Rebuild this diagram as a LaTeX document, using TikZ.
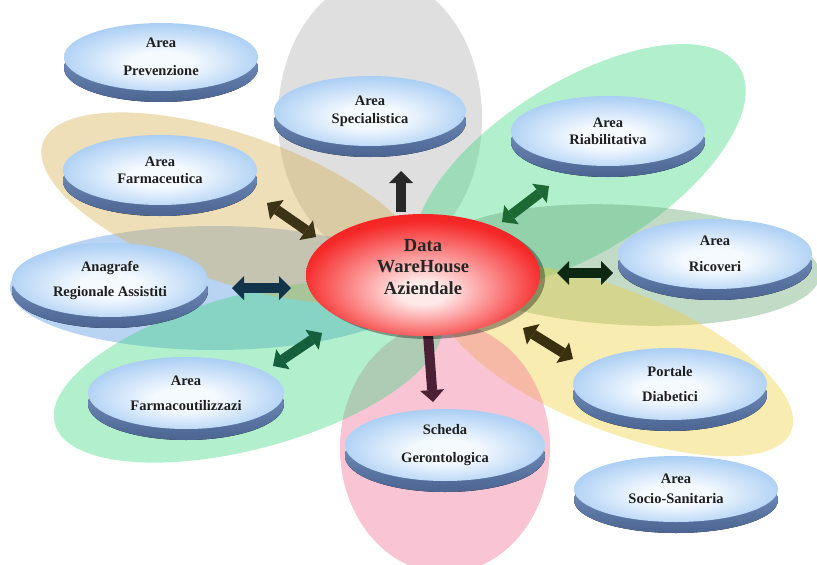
\documentclass[tikz,border=0pt]{standalone}
\usepackage{fontspec}
\setmainfont{Liberation Serif}
\usetikzlibrary{shapes.geometric,arrows.meta}
\definecolor{dfin}{RGB}{245,250,255}
\definecolor{dfmid}{RGB}{160,200,242}
\definecolor{dfout}{RGB}{105,158,226}
\definecolor{baseA}{RGB}{130,160,205}
\definecolor{baseB}{RGB}{75,100,145}
\definecolor{rdin}{RGB}{255,232,232}
\definecolor{rdmid}{RGB}{246,40,40}
\definecolor{rdout}{RGB}{232,6,6}
\definecolor{ptgray}{RGB}{150,150,150}
\definecolor{ptmint}{RGB}{60,215,130}
\definecolor{ptsage}{RGB}{100,165,115}
\definecolor{ptyel}{RGB}{242,208,60}
\definecolor{ptpink}{RGB}{242,110,150}
\definecolor{ptblue}{RGB}{80,145,225}
\definecolor{pttan}{RGB}{215,175,80}
\definecolor{arBrown}{RGB}{60,50,22}
\definecolor{arNavy}{RGB}{18,52,75}
\definecolor{arGreen}{RGB}{22,95,60}
\definecolor{arGray}{RGB}{40,40,40}
\definecolor{arLeaf}{RGB}{28,105,52}
\definecolor{arDark}{RGB}{12,40,18}
\definecolor{arOlive}{RGB}{58,48,16}
\definecolor{arPlum}{RGB}{75,32,52}
\pgfdeclareradialshading{diskface}{\pgfpoint{0bp}{-5bp}}{color(0bp)=(dfin); color(8bp)=(dfin); color(30bp)=(dfmid); color(50bp)=(dfout)}
\pgfdeclareradialshading{redball}{\pgfpoint{0bp}{-8bp}}{color(0bp)=(rdin); color(5bp)=(rdin); color(26bp)=(rdmid); color(50bp)=(rdout)}
\tikzset{
  disk/.style={ellipse, inner sep=0pt, shading=diskface, align=center,
    font=\bfseries\fontsize{14.5}{16}\selectfont, text=black!88},
  diskbase/.style={top color=baseA, bottom color=baseB},
  petal/.style={fill opacity=0.4},
  dblarrow/.style={line width=10pt, <->},
  sglarrow/.style={line width=10pt, ->},
}
\newcommand\mydisk[6]{%
  \fill[diskbase] (#2,#3+11) ellipse [x radius=#4/2, y radius=#5/2];
  \node[disk, minimum width=#4pt, minimum height=#5pt] (#1) at (#2,#3) {#6};
}
\begin{document}
\begin{tikzpicture}[x=1pt,y=-1pt,
  >={Triangle[width=24pt,length=12pt,line width=0pt]}]
\clip (0,0) rectangle (817,565);
\fill[white] (0,0) rectangle (817,565);
% petals
\fill[petal, ptgray, fill opacity=0.3] (380,118) ellipse [x radius=102, y radius=140];
\fill[petal, ptmint, rotate around={32:(580,167)}] (580,167) ellipse [x radius=188, y radius=85];
\fill[petal, ptsage, rotate around={-3:(625,265)}] (625,265) ellipse [x radius=195, y radius=60];
\fill[petal, ptyel, rotate around={-22:(615,360)}] (615,360) ellipse [x radius=190, y radius=70];
\fill[petal, ptpink] (445,448) ellipse [x radius=105, y radius=125];
\fill[petal, ptblue] (215,288) ellipse [x radius=205, y radius=62];
\fill[petal, ptmint, rotate around={15:(248,372)}] (248,372) ellipse [x radius=200, y radius=77];
\fill[petal, pttan, rotate around={-19:(232,208)}] (232,208) ellipse [x radius=200, y radius=74];
% arrow end points
\coordinate (a1s) at (267,203); \coordinate (a1e) at (316,237);
\coordinate (a2s) at (232,288); \coordinate (a2e) at (291,288);
\coordinate (a3s) at (273,366); \coordinate (a3e) at (322,333);
\coordinate (a4s) at (401,212); \coordinate (a4e) at (401,171);
\coordinate (a5s) at (502,222); \coordinate (a5e) at (549,186);
\coordinate (a6s) at (557,273); \coordinate (a6e) at (613,273);
\coordinate (a7s) at (523,328); \coordinate (a7e) at (573,359);
\coordinate (a8s) at (428,334); \coordinate (a8e) at (433,402);
\draw[dblarrow, arBrown] (a1s) -- (a1e);
\draw[dblarrow, arNavy] (a2s) -- (a2e);
\draw[dblarrow, arGreen] (a3s) -- (a3e);
\draw[sglarrow, arGray] (a4s) -- (a4e);
\draw[dblarrow, arLeaf] (a5s) -- (a5e);
\draw[dblarrow, arDark] (a6s) -- (a6e);
\draw[dblarrow, arOlive] (a7s) -- (a7e);
\draw[sglarrow, arPlum] (a8s) -- (a8e);
% outer disks
\mydisk{prev}{161}{57}{194}{68}{Area\\[12pt]Prevenzione}
\mydisk{spec}{370}{111}{192}{70}{Area\\[2pt]Specialistica}
\mydisk{farm}{160}{170}{194}{70}{Area\\[1pt]Farmaceutica}
\mydisk{riab}{608}{131}{194}{70}{Area\\[1pt]Riabilitativa}
\mydisk{rico}{715}{254}{194}{70}{Area\\[10pt]Ricoveri}
\mydisk{anag}{110}{280}{196}{74}{Anagrafe\\[9pt]Regionale Assistiti}
\mydisk{fout}{186}{393}{196}{72}{Area\\[9pt]Farmacoutilizzazi}
\mydisk{port}{670}{384}{194}{72}{Portale\\[9pt]Diabetici}
\mydisk{gero}{445}{445}{200}{72}{Scheda\\[12pt]Gerontologica}
\mydisk{soci}{676}{489}{204}{66}{Area\\[4pt]Socio-Sanitaria}
% centre
\fill[black, opacity=0.35] (428,278) ellipse [x radius=117, y radius=61];
\node[ellipse, minimum width=234pt, minimum height=122pt, inner sep=0pt, shading=redball] (dw) at (423,275) {};
\node[align=center, font=\bfseries\fontsize{18.5}{21.5}\selectfont, text=black!85] (dwt) at (423,267) {Data\\WareHouse\\Aziendale};
\end{tikzpicture}
\end{document}
